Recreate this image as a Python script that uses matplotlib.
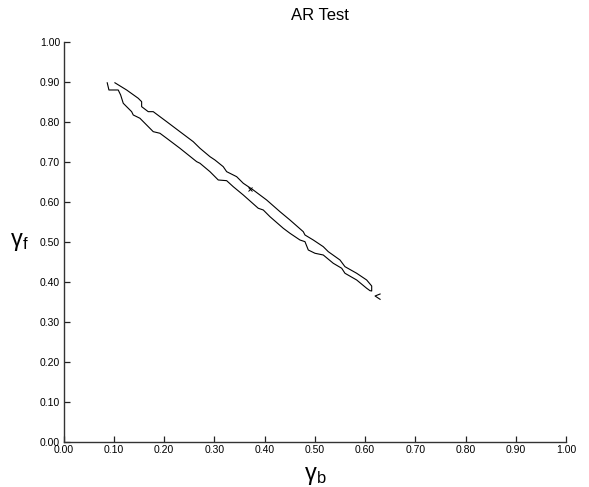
import matplotlib
matplotlib.use("Agg")
import matplotlib.pyplot as plt

# contour boundary: lower/left edge, top to bottom
lower_x = [0.0868, 0.0902, 0.1087, 0.1135, 0.1187, 0.1254, 0.1354, 0.1386, 0.1519, 0.1652,
           0.1784, 0.1917, 0.2051, 0.2315, 0.2648, 0.2714, 0.2913, 0.3078, 0.3245, 0.3376,
           0.3576, 0.3874, 0.3974, 0.4107, 0.4372, 0.4505, 0.4704, 0.4804, 0.4870, 0.5003,
           0.5168, 0.5367, 0.5535, 0.5600, 0.5833, 0.6032, 0.6098, 0.6132]
lower_y = [0.898, 0.880, 0.880, 0.8675, 0.8468, 0.8383, 0.8258, 0.8175, 0.8093, 0.7925,
           0.7758, 0.7718, 0.7593, 0.7343, 0.7008, 0.6968, 0.6758, 0.655, 0.6533, 0.6383,
           0.6175, 0.5843, 0.580, 0.5633, 0.5343, 0.5218, 0.505, 0.5008, 0.480, 0.4718,
           0.4675, 0.4468, 0.4343, 0.4218, 0.405, 0.3843, 0.3783, 0.3775]

# upper/right edge, bottom to top
upper_x = [0.6132, 0.6032, 0.5833, 0.5600, 0.5501, 0.5268, 0.5168, 0.4969, 0.4804, 0.4770,
           0.4505, 0.4306, 0.4041, 0.3775, 0.3576, 0.3444, 0.3245, 0.3177, 0.3012, 0.2913,
           0.2714, 0.2580, 0.2315, 0.2051, 0.1784, 0.1684, 0.1553, 0.1553, 0.1485, 0.1254,
           0.1021]
upper_y = [0.390, 0.405, 0.4218, 0.4383, 0.455, 0.4758, 0.4883, 0.505, 0.5175, 0.5258,
           0.555, 0.5758, 0.605, 0.630, 0.6468, 0.6633, 0.6758, 0.6883, 0.705, 0.7133,
           0.7343, 0.7508, 0.7758, 0.8008, 0.8258, 0.8258, 0.8383, 0.8508, 0.8593, 0.880,
           0.898]

# small contour fragment at the edge
frag_x = [0.6299, 0.6199, 0.6299]
frag_y = [0.370, 0.365, 0.3567]

# point estimate
est_x = [0.371]
est_y = [0.632]

ticks = [0.0, 0.1, 0.2, 0.3, 0.4, 0.5, 0.6, 0.7, 0.8, 0.9, 1.0]
tick_labels = ["%.2f" % t for t in ticks]

plt.rcParams['font.family'] = ['Liberation Sans', 'DejaVu Sans']
plt.rcParams['mathtext.fontset'] = 'custom'
plt.rcParams['mathtext.rm'] = 'Liberation Sans'
plt.rcParams['mathtext.it'] = 'Liberation Sans'
plt.rcParams['mathtext.default'] = 'regular'

fig = plt.figure(figsize=(5.89, 4.87), dpi=100)
ax = fig.add_axes([0.108, 0.0924, 0.853, 0.8214])

ax.plot(lower_x + upper_x, lower_y + upper_y, color='black', lw=0.8)
ax.plot(frag_x, frag_y, color='black', lw=0.8)
ax.plot(est_x, est_y, marker='x', color='black', ms=3.5, mew=0.7, ls='none')

ax.set_xlim(0, 1)
ax.set_ylim(0, 1)
ax.set_xticks(ticks)
ax.set_xticklabels(tick_labels)
ax.set_yticks(ticks)
ax.set_yticklabels(tick_labels)
ax.tick_params(direction='in', length=4, width=0.9, labelsize=7.5, pad=2.5, color='#222222')
ax.spines['top'].set_visible(False)
ax.spines['right'].set_visible(False)
for s in ['left', 'bottom']:
    ax.spines[s].set_linewidth(1.0)
    ax.spines[s].set_color('#333333')

fig.text(0.543, 0.969, "AR Test", ha='center', va='center', fontsize=12)
fig.text(0.535, 0.022, r'$\gamma_b$', ha='center', va='center', fontsize=17)
fig.text(0.033, 0.503, r'$\gamma_f$', ha='center', va='center', fontsize=17)

fig.savefig("out.png", dpi=100)
